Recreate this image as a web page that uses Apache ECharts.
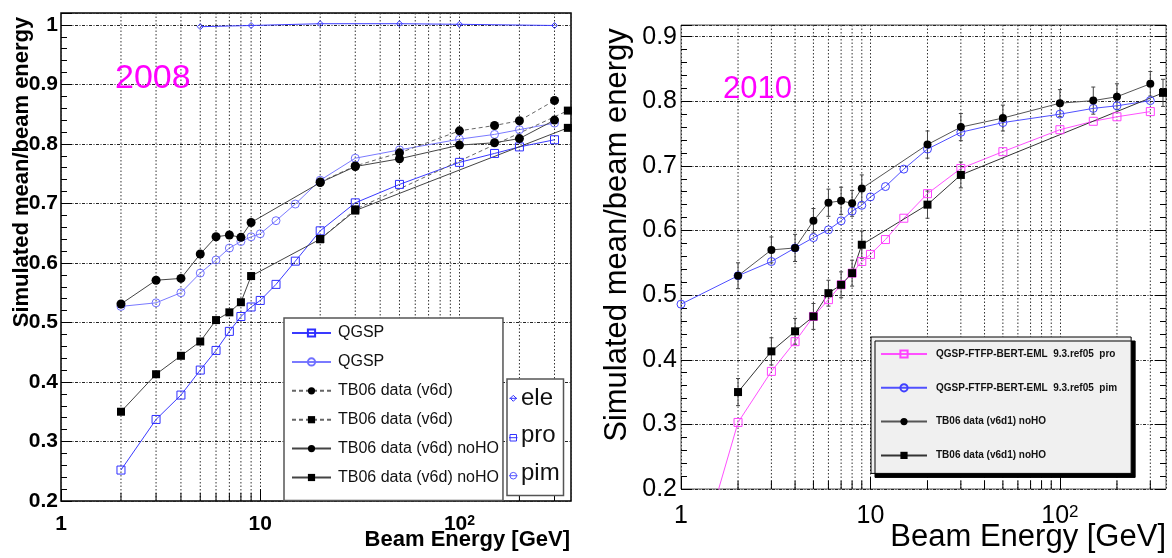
<!DOCTYPE html>
<html>
<head>
<meta charset="utf-8">
<script src="https://cdn.jsdelivr.net/npm/echarts@6/dist/echarts.min.js"></script>
<style>
  html, body { margin: 0; background: #fff; }
  #chart { width: 1172px; height: 558px; }
</style>
</head>
<body>
<div id="chart"></div>
<script>
// ---- 2008 panel ----
const eleE08 = [5, 9, 20, 50, 100, 300];
const eleR08 = [0.997, 0.999, 1.002, 1.002, 1.001, 0.999];

const simE08 = [2, 3, 4, 5, 6, 7, 8, 9, 10, 12, 15, 20, 30, 50, 100, 150, 200, 300];
const proR08 = [0.252, 0.337, 0.378, 0.420, 0.453, 0.485, 0.510, 0.526, 0.537, 0.564, 0.603, 0.654, 0.701, 0.732, 0.769, 0.784, 0.795, 0.807];
const pimR08 = [0.527, 0.533, 0.550, 0.583, 0.605, 0.625, 0.636, 0.644, 0.649, 0.671, 0.699, 0.739, 0.776, 0.790, 0.808, 0.816, 0.824, 0.835];

const v6dCircE08 = [20, 30, 50, 100, 150, 200, 300];
const v6dCircR08 = [0.736, 0.763, 0.785, 0.822, 0.831, 0.839, 0.873];
const v6dSqE08 = [20, 30, 350];
const v6dSqR08 = [0.640, 0.690, 0.856];

const noHOCircE08 = [2, 3, 4, 5, 6, 7, 8, 9, 20, 30, 50, 100, 150, 200, 300];
const noHOCircR08 = [0.531, 0.571, 0.574, 0.615, 0.644, 0.647, 0.643, 0.668, 0.735, 0.762, 0.775, 0.798, 0.802, 0.809, 0.840];
const noHOSqE08 = [2, 3, 4, 5, 6, 7, 8, 9, 20, 30, 350];
const noHOSqR08 = [0.350, 0.413, 0.444, 0.468, 0.504, 0.517, 0.534, 0.578, 0.640, 0.688, 0.827];

// ---- 2010 panel ----
const simE10 = [1, 2, 3, 4, 5, 6, 7, 8, 9, 10, 12, 15, 20, 30, 50, 100, 150, 200, 300];
const proR10 = [0.000, 0.303, 0.382, 0.428, 0.467, 0.493, 0.516, 0.534, 0.552, 0.563, 0.586, 0.619, 0.657, 0.696, 0.722, 0.756, 0.769, 0.776, 0.784];
const pimR10 = [0.486, 0.530, 0.552, 0.573, 0.589, 0.601, 0.615, 0.630, 0.639, 0.652, 0.668, 0.695, 0.726, 0.752, 0.767, 0.780, 0.789, 0.793, 0.801];

const circE10 = [2, 3, 4, 5, 6, 7, 8, 9, 20, 30, 50, 100, 150, 200, 300];
const circR10 = [0.530, 0.570, 0.573, 0.615, 0.643, 0.646, 0.642, 0.665, 0.733, 0.760, 0.774, 0.797, 0.801, 0.807, 0.827];
const circErr10 = [0.020, 0.020, 0.021, 0.019, 0.021, 0.021, 0.020, 0.021, 0.021, 0.021, 0.020, 0.021, 0.021, 0.020, 0.019];
const sqE10 = [2, 3, 4, 5, 6, 7, 8, 9, 20, 30, 350];
const sqR10 = [0.350, 0.413, 0.444, 0.467, 0.503, 0.516, 0.534, 0.578, 0.640, 0.686, 0.813];
const sqErr10 = [0.021, 0.021, 0.020, 0.020, 0.020, 0.020, 0.020, 0.021, 0.021, 0.020, 0.021];

// log-axis minor grid values (2..9, 20..90, 200, 300)
const logMinorTicks = [2, 3, 4, 5, 6, 7, 8, 9, 20, 30, 40, 50, 60, 70, 80, 90, 200, 300];

const legendNames = {
  pro08: "QGSP",
  pim08: "QGSP",
  v6dCirc08: "TB06 data (v6d)",
  v6dSq08: "TB06 data (v6d)",
  noHOCirc08: "TB06 data (v6d) noHO",
  noHOSq08: "TB06 data (v6d) noHO",
  pro10: "QGSP-FTFP-BERT-EML  9.3.ref05  pro",
  pim10: "QGSP-FTFP-BERT-EML  9.3.ref05  pim",
  circ10: "TB06 data (v6d1) noHO",
  sq10: "TB06 data (v6d1) noHO",
};

const FONT = "'Liberation Sans', Arial, Helvetica, sans-serif";

const pairs = (xs, ys) => xs.map((x, i) => [x, ys[i]]);

const chart = echarts.init(document.getElementById("chart"));

const gridSeries = (idx) => ({
  type: "custom",
  xAxisIndex: idx,
  yAxisIndex: idx,
  silent: true,
  z: 1,
  data: logMinorTicks.map((v) => [v, 0.5]),
  renderItem: (params, api) => {
    const cs = params.coordSys;
    const x = api.coord([api.value(0), 0.5])[0];
    const bottom = cs.y + cs.height;
    return {
      type: "group",
      children: [
        {
          type: "line",
          shape: { x1: x, y1: cs.y, x2: x, y2: bottom },
          style: { stroke: "#333", lineWidth: 1, lineDash: [1.5, 2] },
        },
        {
          type: "line",
          shape: { x1: x, y1: bottom, x2: x, y2: bottom - 8 },
          style: { stroke: "#000", lineWidth: 1 },
        },
      ],
    };
  },
});

const errorSeries = (xs, ys, errs) => ({
  type: "custom",
  xAxisIndex: 1,
  yAxisIndex: 1,
  silent: true,
  z: 3,
  data: xs.map((x, i) => [x, ys[i], errs[i]]),
  renderItem: (params, api) => {
    const x = api.value(0), y = api.value(1), e = api.value(2);
    const hi = api.coord([x, y + e]);
    const lo = api.coord([x, y - e]);
    const st = { stroke: "#444", lineWidth: 1 };
    return {
      type: "group",
      children: [
        { type: "line", shape: { x1: hi[0], y1: hi[1], x2: lo[0], y2: lo[1] }, style: st },
        { type: "line", shape: { x1: hi[0] - 2, y1: hi[1], x2: hi[0] + 2, y2: hi[1] }, style: st },
        { type: "line", shape: { x1: lo[0] - 2, y1: lo[1], x2: lo[0] + 2, y2: lo[1] }, style: st },
      ],
    };
  },
});

const lineSeries = (name, idx, data, symbol, size, color, lineColor, opts = {}) => ({
  name,
  type: "line",
  xAxisIndex: idx,
  yAxisIndex: idx,
  data,
  symbol,
  symbolSize: size,
  z: 4,
  itemStyle: opts.hollow
    ? { color: "rgba(255,255,255,0)", borderColor: color, borderWidth: 1 }
    : { color, borderWidth: 0 },
  lineStyle: { color: lineColor, width: 1, type: opts.dash || "solid" },
  emphasis: { disabled: true },
});

const xAxisBase = (idx, bold, size, margin) => ({
  type: "log",
  logBase: 10,
  gridIndex: idx,
  min: 1,
  max: 363,
  axisLine: { show: false },
  axisTick: { inside: true, length: 12, lineStyle: { color: "#000" } },
  minorTick: { show: false },
  splitLine: { show: true, lineStyle: { color: "#333", width: 1, type: [1.5, 2] } },
  axisLabel: {
    margin,
    showMinLabel: true,
    showMaxLabel: false,
    hideOverlap: false,
    color: "#000",
    fontFamily: FONT,
    fontWeight: bold ? "bold" : "normal",
    fontSize: size,
    formatter: (v) => {
      if (Math.abs(v - 100) < 1e-6) return "{n|10}{s|2}";
      if (Math.abs(v - 10) < 1e-6) return "{n|10}";
      if (Math.abs(v - 1) < 1e-6) return "{n|1}";
      return "";
    },
    rich: {
      n: { fontFamily: FONT, fontWeight: bold ? "bold" : "normal", fontSize: size, color: "#000" },
      s: {
        fontFamily: FONT,
        fontWeight: bold ? "bold" : "normal",
        fontSize: Math.round(size * 0.68),
        color: "#000",
        verticalAlign: "top",
      },
    },
  },
});

const yAxisBase = (idx, max, bold, size, margin) => ({
  type: "value",
  gridIndex: idx,
  min: 0.2,
  max,
  interval: 0.1,
  axisLine: { show: false },
  axisTick: { inside: true, length: 11, lineStyle: { color: "#000" } },
  minorTick: { show: true, splitNumber: 5, length: 6, lineStyle: { color: "#000" } },
  splitLine: { show: true, lineStyle: { color: "#222", width: 1, type: [3, 1.5, 1, 1.5] } },
  axisLabel: {
    margin,
    showMaxLabel: false,
    color: "#000",
    fontFamily: FONT,
    fontWeight: bold ? "bold" : "normal",
    fontSize: size,
  },
});

const option = {
  backgroundColor: "#fff",
  animation: false,
  grid: [
    { left: 61, top: 13, width: 510, height: 488, show: true, borderColor: "#000", borderWidth: 1.5, backgroundColor: "rgba(0,0,0,0)" },
    { left: 681, top: 25, width: 485, height: 464, show: true, borderColor: "#555", borderWidth: 1, backgroundColor: "rgba(0,0,0,0)" },
  ],
  xAxis: [xAxisBase(0, true, 21, 13), xAxisBase(1, false, 25, 15)],
  yAxis: [
    yAxisBase(0, 1.02, true, 21, 3),
    yAxisBase(1, 0.918, false, 25, 4),
    {
      type: "value",
      gridIndex: 1,
      position: "right",
      min: 0.2,
      max: 0.918,
      interval: 0.1,
      axisLine: { show: false },
      axisTick: { inside: true, length: 11, lineStyle: { color: "#000" } },
      minorTick: { show: true, splitNumber: 5, length: 6, lineStyle: { color: "#000" } },
      splitLine: { show: false },
      axisLabel: { show: false },
    },
  ],
  legend: [
    {
      orient: "vertical",
      left: 284,
      top: 318,
      padding: [7, 4, 15, 7],
      itemWidth: 39,
      itemHeight: 9,
      itemGap: 12.9,
      selectedMode: false,
      backgroundColor: "#fff",
      borderColor: "#555",
      borderWidth: 1.5,
      textStyle: { fontFamily: FONT, fontSize: 16, color: "#111", padding: [0, 0, 0, 2] },
      data: ["pro08", "pim08", "v6dCirc08", "v6dSq08", "noHOCirc08", "noHOSq08"],
      formatter: (n) => legendNames[n],
    },
    {
      orient: "vertical",
      left: 871,
      top: 337,
      padding: [12, 14, 13, 9],
      itemWidth: 46,
      itemHeight: 9,
      itemGap: 23.8,
      selectedMode: false,
      backgroundColor: "#f0f0f0",
      borderColor: "#000",
      borderWidth: 1,
      shadowColor: "#000",
      shadowBlur: 0,
      shadowOffsetX: 4,
      shadowOffsetY: 4,
      textStyle: { fontFamily: FONT, fontSize: 10, fontWeight: "bold", color: "#111", padding: [0, 0, 0, 4] },
      data: ["pro10", "pim10", "circ10", "sq10"],
      formatter: (n) => legendNames[n],
    },
  ],
  graphic: [
    { type: "text", x: 115, y: 79, z: 10, style: { text: "2008", fill: "#ff00ff", font: `34px ${FONT}`, textVerticalAlign: "middle" } },
    { type: "text", x: 723, y: 89, z: 10, style: { text: "2010", fill: "#ff00ff", font: `31px ${FONT}`, textVerticalAlign: "middle" } },
    {
      type: "text", x: 21.5, y: 172, rotation: Math.PI / 2, z: 10,
      style: { text: "Simulated mean/beam energy", fill: "#000", font: `bold 22px ${FONT}`, textAlign: "center", textVerticalAlign: "middle" },
    },
    {
      type: "text", x: 617, y: 235, rotation: Math.PI / 2, z: 10,
      style: { text: "Simulated mean/beam energy", fill: "#000", font: `31px ${FONT}`, textAlign: "center", textVerticalAlign: "middle" },
    },
    { type: "text", x: 570, y: 540, z: 10, style: { text: "Beam Energy [GeV]", fill: "#000", font: `bold 22px ${FONT}`, textAlign: "right", textVerticalAlign: "middle" } },
    { type: "text", x: 1166, y: 537, z: 10, style: { text: "Beam Energy [GeV]", fill: "#000", font: `31px ${FONT}`, textAlign: "right", textVerticalAlign: "middle" } },
    // particle key box (2008)
    { type: "rect", z: 10, shape: { x: 507, y: 379, width: 56.5, height: 116.5 }, style: { fill: "#fff", stroke: "#555", lineWidth: 1.5 } },
    { type: "text", x: 521, y: 398, z: 11, style: { text: "ele", fill: "#111", font: `24px ${FONT}`, textVerticalAlign: "middle" } },
    { type: "text", x: 521, y: 435, z: 11, style: { text: "pro", fill: "#111", font: `24px ${FONT}`, textVerticalAlign: "middle" } },
    { type: "text", x: 521, y: 473, z: 11, style: { text: "pim", fill: "#111", font: `24px ${FONT}`, textVerticalAlign: "middle" } },
    { type: "polygon", z: 11, shape: { points: [[513.3, 395.3], [516.3, 398.3], [513.3, 401.3], [510.3, 398.3]] }, style: { fill: "none", stroke: "#3333ff", lineWidth: 1 } },
    { type: "line", z: 11, shape: { x1: 509.5, y1: 398.3, x2: 517, y2: 398.3 }, style: { stroke: "#3333ff", lineWidth: 1 } },
    { type: "rect", z: 11, shape: { x: 510, y: 434.5, width: 6.5, height: 6.5 }, style: { fill: "none", stroke: "#3333ff", lineWidth: 1 } },
    { type: "line", z: 11, shape: { x1: 509, y1: 437.7, x2: 517.5, y2: 437.7 }, style: { stroke: "#3333ff", lineWidth: 1 } },
    { type: "circle", z: 11, shape: { cx: 513.3, cy: 475.7, r: 3.3 }, style: { fill: "none", stroke: "#5555ff", lineWidth: 1 } },
    { type: "line", z: 11, shape: { x1: 509, y1: 475.7, x2: 517.5, y2: 475.7 }, style: { stroke: "#5555ff", lineWidth: 1 } },
  ],
  series: [
    gridSeries(0),
    gridSeries(1),
    // 2008
    lineSeries("ele", 0, pairs(eleE08, eleR08), "diamond", 6, "#3d3dff", "#3d3dff", { hollow: true }),
    lineSeries("pro08", 0, pairs(simE08, proR08), "rect", 8, "#2e2eff", "#3a3aff", { hollow: true }),
    lineSeries("pim08", 0, pairs(simE08, pimR08), "circle", 8, "#7070ff", "#7a7aff", { hollow: true }),
    lineSeries("v6dCirc08", 0, pairs(v6dCircE08, v6dCircR08), "circle", 9, "#000", "#666", { dash: [4, 3] }),
    lineSeries("v6dSq08", 0, pairs(v6dSqE08, v6dSqR08), "rect", 8, "#000", "#666", { dash: [4, 3] }),
    lineSeries("noHOCirc08", 0, pairs(noHOCircE08, noHOCircR08), "circle", 9, "#000", "#444"),
    lineSeries("noHOSq08", 0, pairs(noHOSqE08, noHOSqR08), "rect", 8, "#000", "#444"),
    // 2010
    errorSeries(circE10, circR10, circErr10),
    errorSeries(sqE10, sqR10, sqErr10),
    lineSeries("pro10", 1, pairs(simE10, proR10), "rect", 8, "#ff40ff", "#ff50ff", { hollow: true }),
    lineSeries("pim10", 1, pairs(simE10, pimR10), "circle", 8, "#4040ff", "#5050ff", { hollow: true }),
    lineSeries("circ10", 1, pairs(circE10, circR10), "circle", 8, "#000", "#555"),
    lineSeries("sq10", 1, pairs(sqE10, sqR10), "rect", 8, "#000", "#333"),
  ],
};

chart.setOption(option);
</script>
</body>
</html>
